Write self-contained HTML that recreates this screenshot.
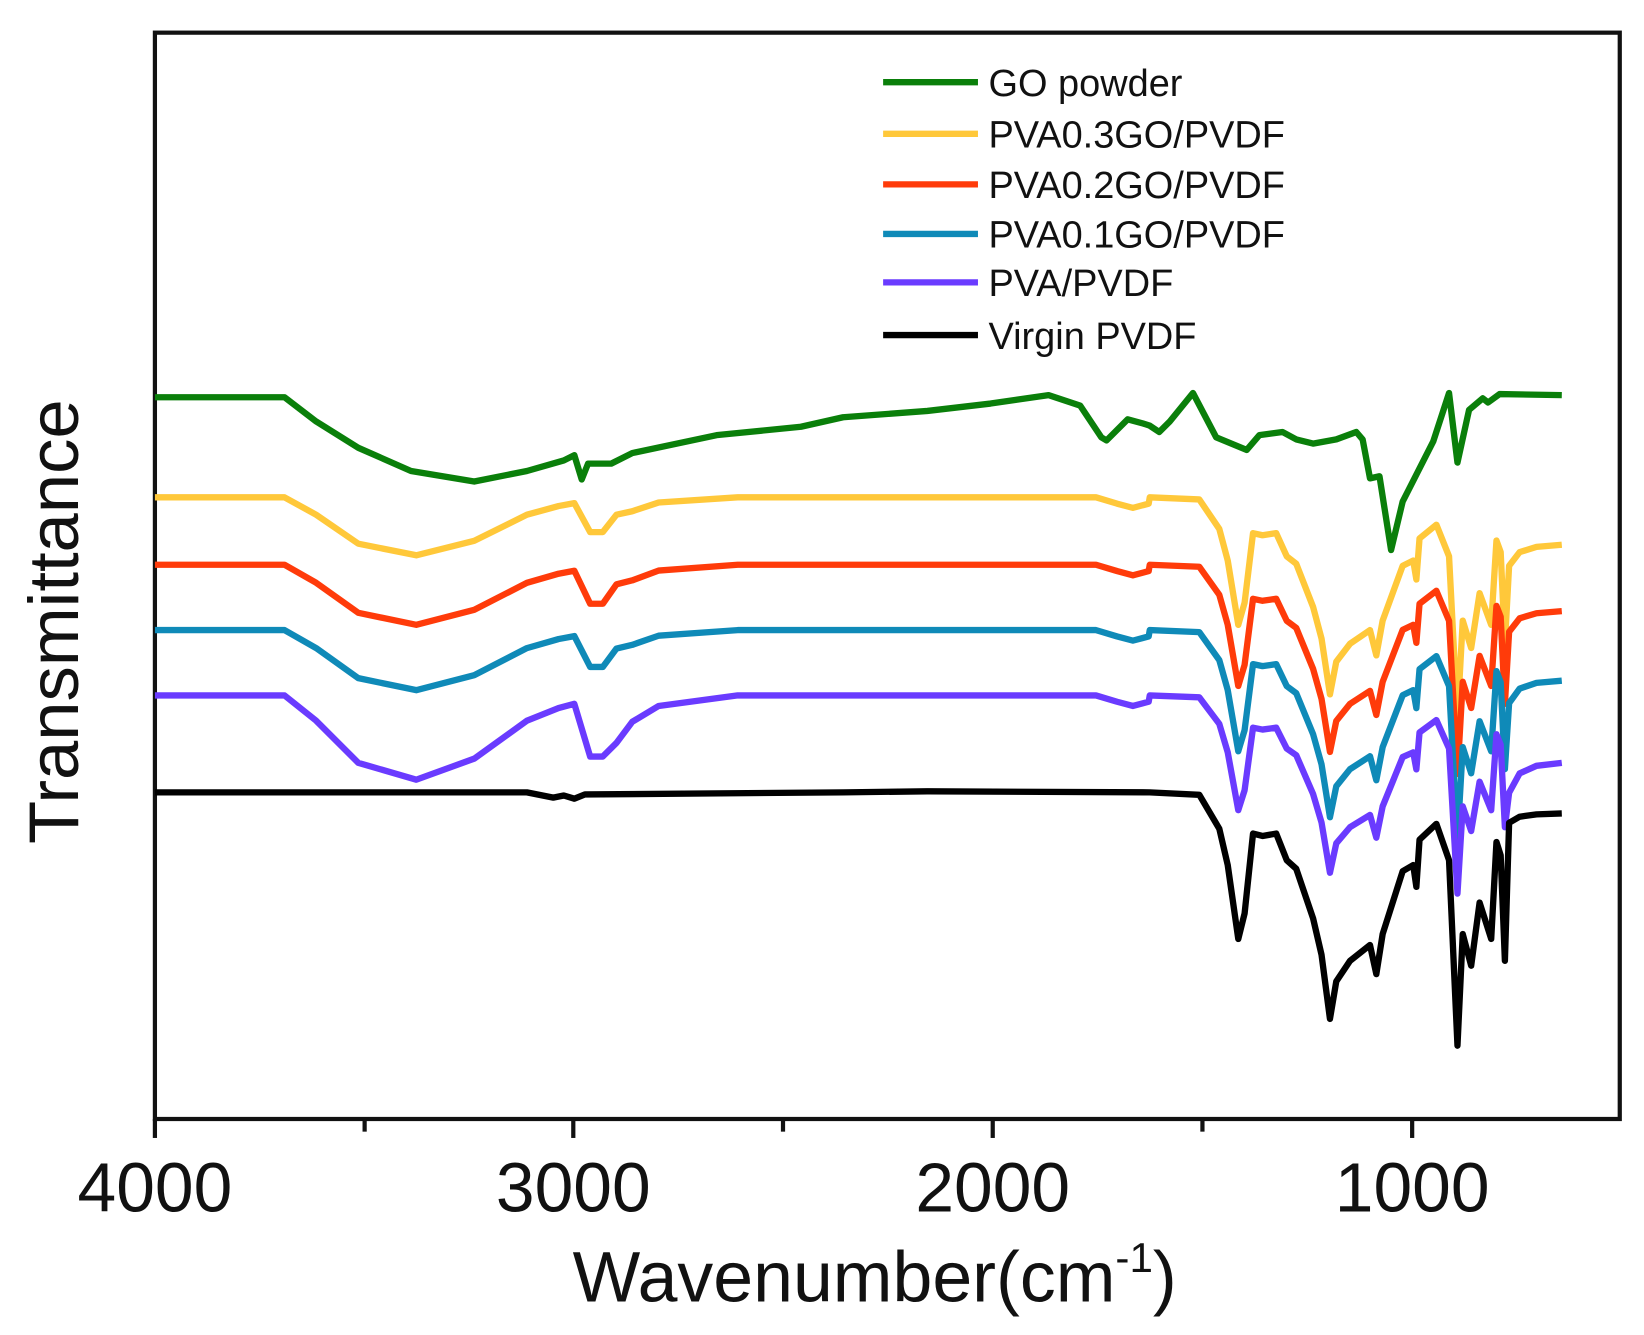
<!DOCTYPE html>
<html><head><meta charset="utf-8"><style>
html,body{margin:0;padding:0;background:#fff}
svg{display:block}
text{font-family:"Liberation Sans",sans-serif;fill:#111}
</style></head><body>
<svg id="s" width="1644" height="1335" viewBox="0 0 1560 1267" preserveAspectRatio="none" xmlns="http://www.w3.org/2000/svg">
<rect x="147" y="31" width="1390" height="1031" fill="none" stroke="#111" stroke-width="4"/>
<g stroke="#111" stroke-width="4">
<line x1="147" y1="1062" x2="147" y2="1080"/><line x1="346" y1="1062" x2="346" y2="1074"/>
<line x1="544" y1="1062" x2="544" y2="1080"/><line x1="743" y1="1062" x2="743" y2="1074"/>
<line x1="942" y1="1062" x2="942" y2="1080"/><line x1="1141" y1="1062" x2="1141" y2="1074"/>
<line x1="1340" y1="1062" x2="1340" y2="1080"/>
</g>
<g font-size="66" text-anchor="middle">
<text x="147" y="1150">4000</text><text x="544" y="1150">3000</text>
<text x="942" y="1150">2000</text><text x="1340" y="1150">1000</text>
</g>
<text x="830" y="1235" font-size="68" text-anchor="middle">Wavenumber(cm<tspan font-size="40" dy="-28">-1</tspan><tspan dy="28">)</tspan></text>
<text transform="translate(74,590) rotate(-90)" font-size="67" text-anchor="middle">Transmittance</text>
<g id="curves" fill="none" stroke-width="6" stroke-linejoin="round"></g>
<g stroke-width="6">
<line x1="838" y1="78" x2="928" y2="78" stroke="#0a7f0a"/>
<line x1="838" y1="127" x2="928" y2="127" stroke="#ffc83a"/>
<line x1="838" y1="175" x2="928" y2="175" stroke="#ff3b0a"/>
<line x1="838" y1="222" x2="928" y2="222" stroke="#0f8ab8"/>
<line x1="838" y1="268" x2="928" y2="268" stroke="#6a3bff"/>
<line x1="838" y1="318" x2="928" y2="318" stroke="#000"/>
</g>
<g font-size="36">
<text x="938" y="91">GO powder</text><text x="938" y="140">PVA0.3GO/PVDF</text>
<text x="938" y="188">PVA0.2GO/PVDF</text><text x="938" y="235">PVA0.1GO/PVDF</text>
<text x="938" y="281">PVA/PVDF</text><text x="938" y="331">Virgin PVDF</text>
</g>
</svg>
<script>
var g=document.getElementById('curves');
function add(pts,c){var p=document.createElementNS('http://www.w3.org/2000/svg','path');
p.setAttribute('d','M'+pts.map(function(q){return q[0]+','+q[1].toFixed(1)}).join(' L'));p.setAttribute('stroke',c);g.appendChild(p);}
var green=[[147,377],[270,377],[300,400],[340,425],[390,447],[450,457],[500,447],[535,437],[545,432],[552,455],[558,440],[580,440],[600,430],[680,413],[760,405],[800,396],[880,390],[940,383],[995,375],[1025,385],[1045,415],[1050,418],[1070,398],[1085,402],[1091,404],[1100,410],[1110,400],[1132,373],[1154,415],[1183,427],[1195,413],[1217,410],[1230,417],[1246,421],[1268,417],[1287,410],[1293,417],[1300,454],[1309,452],[1320,522],[1331,476],[1360,419],[1375,373],[1383,439],[1394,389],[1407,378],[1412,382],[1423,374],[1482,375]];
add(green,'#0a7f0a');
var T=[[1091,0],[1138,2],[1157,30],[1165,60],[1175,121],[1181,100],[1189,34],[1198,36],[1211,34],[1221,56],[1230,63],[1246,104],[1254,134],[1262,187],[1268,156],[1281,139],[1300,126],[1306,150],[1312,117],[1331,65],[1341,60],[1344,78],[1347,39],[1363,26],[1375,56],[1383,209],[1388,117],[1396,143],[1404,91],[1415,121],[1420,41],[1424,52],[1428,139],[1432,65],[1442,52],[1458,47],[1482,45]];
function series(base,left,scale,color,endOff){
 var pts=left.map(function(q){return [q[0],base+q[1]]});
 T.forEach(function(q,i){var d=q[1]*scale; if(i>=T.length-4) d=endOff*(q[1]/45); pts.push([q[0],base+d]);});
 add(pts,color);}
function leftPart(depth,d2){return [[147,0],[270,0],[300,depth*0.3],[340,depth*0.8],[395,depth],[450,depth*0.75],[500,depth*0.3],[530,depth*0.15],[545,depth*0.1],[560,d2],[572,d2],[585,d2*0.5],[600,d2*0.4],[625,d2*0.15],[700,0],[1040,0],[1060,6],[1075,10],[1090,6],[1091,0]];}
series(472,leftPart(55,33),1,'#ffc83a',45);
series(536,leftPart(57,37),0.95,'#ff3b0a',44);
series(598,leftPart(57,35),0.95,'#0f8ab8',48);
var pl=leftPart(80,58);pl[11]=[585,45];pl[12]=[600,25];pl[13]=[625,10];
series(660,pl,0.9,'#6a3bff',64);
var bl=[[147,0],[500,0],[525,5],[535,3],[545,6],[555,2],[800,0],[880,-1],[1091,0]];
series(752,bl,1.15,'#000',20);
</script>
</body></html>
